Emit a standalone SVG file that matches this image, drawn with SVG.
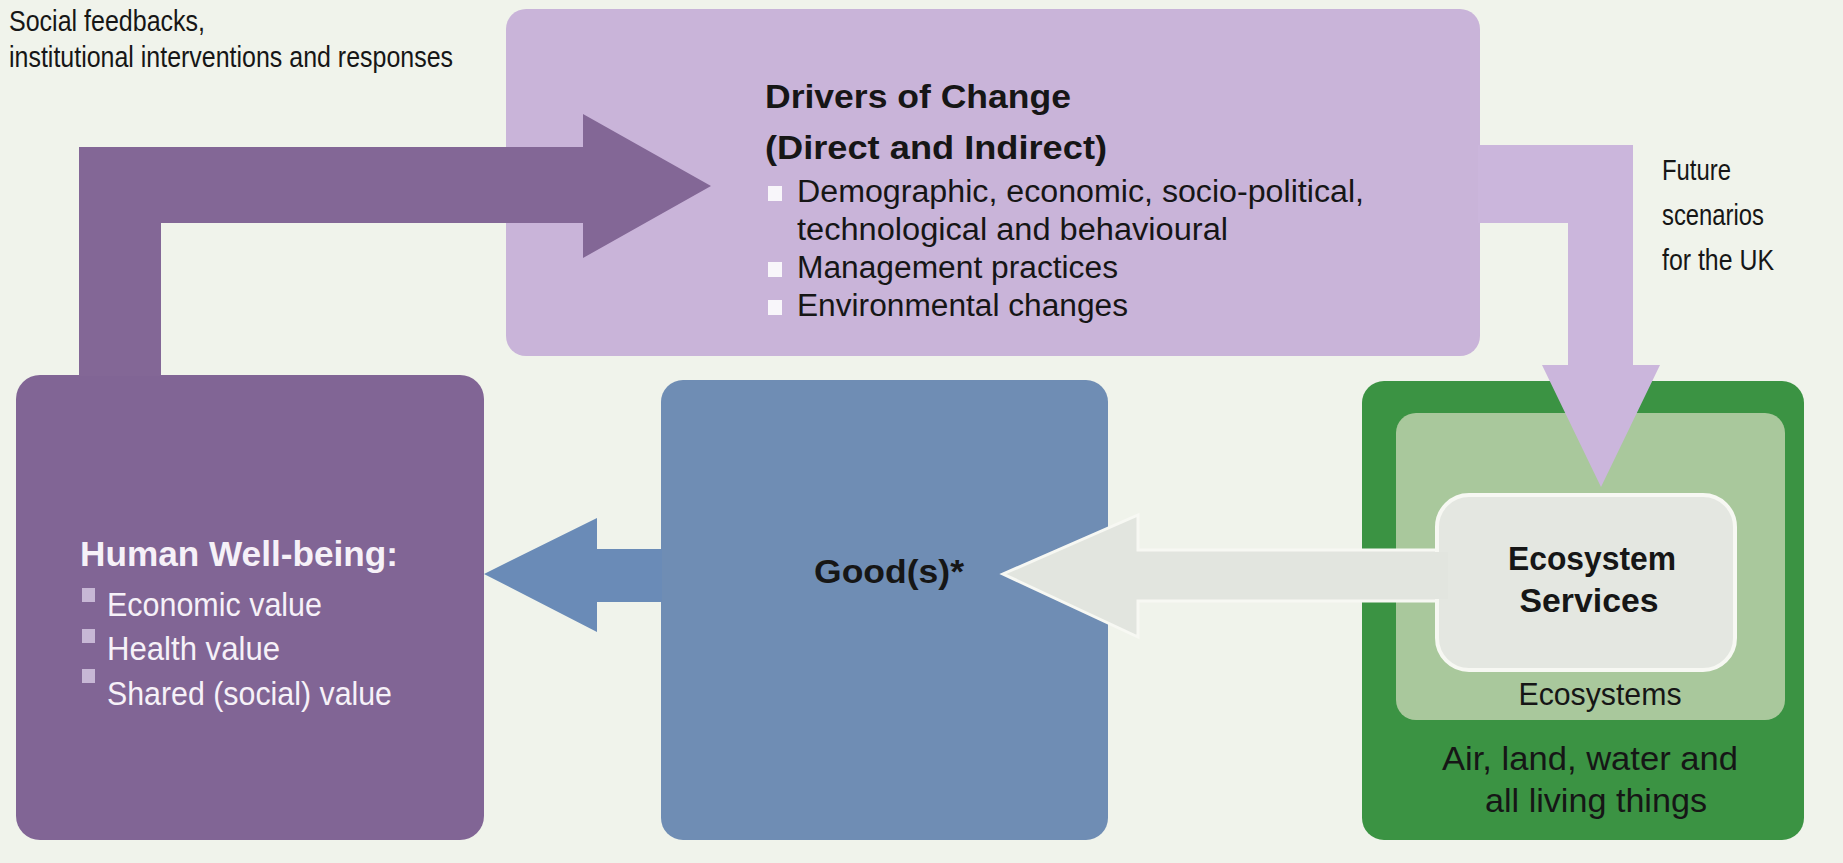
<svg xmlns="http://www.w3.org/2000/svg" width="1843" height="863" viewBox="0 0 1843 863">
  <style>
    .txt { font-family: "Liberation Sans", Arial, sans-serif; fill: #161616; }
    .bold { font-weight: bold; }
    .light { fill: #f6f1f8; }
    .mid { text-anchor: middle; }
  </style>

  <!-- page background -->
  <rect x="0" y="0" width="1843" height="863" fill="#f0f3eb"/>

  <!-- Drivers of Change -->
  <g id="drivers">
    <rect x="506" y="9" width="974" height="347" rx="20" fill="#c9b4d9"/>
  </g>

  <!-- Ecosystems (outer / inner) -->
  <g id="ecosystems">
    <rect x="1362" y="381" width="442" height="459" rx="22" fill="#3b9343"/>
    <rect x="1396" y="413" width="389" height="307" rx="20" fill="#a9c89c"/>
  </g>

  <!-- Human Well-being -->
  <g id="wellbeing">
    <rect x="16" y="375" width="468" height="465" rx="24" fill="#816595"/>
  </g>

  <!-- Goods -->
  <g id="goods">
    <rect x="661" y="380" width="447" height="460" rx="22" fill="#6f8db4"/>
  </g>

  <!-- Connectors -->
  <g id="connectors">
    <!-- feedback loop: well-being back to drivers -->
    <path d="M79,376 L79,147 L583,147 L583,114 L711,186 L583,258 L583,223 L161,223 L161,376 Z" fill="#836796"/>
    <!-- drivers down to ecosystems (future scenarios) -->
    <path d="M1478,145 L1633,145 L1633,365 L1660,365 L1601,487 L1542,365 L1568,365 L1568,223 L1478,223 Z" fill="#cbb6dc"/>
    <!-- goods to well-being -->
    <path d="M662,549 L597,549 L597,518 L484,574 L597,632 L597,602 L662,602 Z" fill="#6a8bb7"/>
    <!-- ecosystem services to goods -->
    <path d="M1445,550 L1138,550 L1138,515 L1003,574 L1138,637 L1138,601 L1445,601 Z" fill="#e2e5df" stroke="#f7f8f3" stroke-width="3" stroke-linejoin="miter"/>
  </g>

  <!-- Ecosystem Services -->
  <g id="ecosystem-services">
    <rect x="1437" y="495" width="298" height="175" rx="32" fill="#e4e7e1" stroke="#f7f8f3" stroke-width="4"/>
    <rect x="1432" y="552" width="16" height="47" fill="#e2e5df"/>
    <text class="txt bold mid" x="1592" y="570" font-size="34" textLength="168" lengthAdjust="spacingAndGlyphs">Ecosystem</text>
    <text class="txt bold mid" x="1589" y="612" font-size="34" textLength="139" lengthAdjust="spacingAndGlyphs">Services</text>
  </g>

  <!-- labels -->
  <g id="labels">
    <text class="txt" x="9" y="31" font-size="30" textLength="196" lengthAdjust="spacingAndGlyphs">Social feedbacks,</text>
    <text class="txt" x="9" y="67" font-size="30" textLength="444" lengthAdjust="spacingAndGlyphs">institutional interventions and responses</text>

    <text class="txt" x="1662" y="180" font-size="30" textLength="69" lengthAdjust="spacingAndGlyphs">Future</text>
    <text class="txt" x="1662" y="225" font-size="30" textLength="102" lengthAdjust="spacingAndGlyphs">scenarios</text>
    <text class="txt" x="1662" y="270" font-size="30" textLength="112" lengthAdjust="spacingAndGlyphs">for the UK</text>
  </g>

  <g id="drivers-text">
    <text class="txt bold" x="765" y="108" font-size="33" textLength="306" lengthAdjust="spacingAndGlyphs">Drivers of Change</text>
    <text class="txt bold" x="765" y="159" font-size="33" textLength="342" lengthAdjust="spacingAndGlyphs">(Direct and Indirect)</text>
    <rect x="768" y="186" width="14" height="15" fill="#f8f6fa"/>
    <text class="txt" x="797" y="202" font-size="31" textLength="567" lengthAdjust="spacingAndGlyphs">Demographic, economic, socio-political,</text>
    <text class="txt" x="797" y="240" font-size="31" textLength="431" lengthAdjust="spacingAndGlyphs">technological and behavioural</text>
    <rect x="768" y="262" width="14" height="15" fill="#f8f6fa"/>
    <text class="txt" x="797" y="278" font-size="31" textLength="321" lengthAdjust="spacingAndGlyphs">Management practices</text>
    <rect x="768" y="300" width="14" height="15" fill="#f8f6fa"/>
    <text class="txt" x="797" y="316" font-size="31" textLength="331" lengthAdjust="spacingAndGlyphs">Environmental changes</text>
  </g>

  <g id="wellbeing-text">
    <text class="txt bold light" x="80" y="566" font-size="35" textLength="318" lengthAdjust="spacingAndGlyphs">Human Well-being:</text>
    <rect x="82" y="588" width="13" height="14" fill="#c7b7d5"/>
    <text class="txt light" x="107" y="616" font-size="33" textLength="215" lengthAdjust="spacingAndGlyphs">Economic value</text>
    <rect x="82" y="629" width="13" height="14" fill="#c7b7d5"/>
    <text class="txt light" x="107" y="660" font-size="33" textLength="173" lengthAdjust="spacingAndGlyphs">Health value</text>
    <rect x="82" y="669" width="13" height="14" fill="#c7b7d5"/>
    <text class="txt light" x="107" y="705" font-size="33" textLength="285" lengthAdjust="spacingAndGlyphs">Shared (social) value</text>
  </g>

  <g id="goods-text">
    <text class="txt bold mid" x="889" y="583" font-size="33" textLength="150" lengthAdjust="spacingAndGlyphs">Good(s)*</text>
  </g>

  <g id="ecosystems-text">
    <text class="txt mid" x="1600" y="705" font-size="32" textLength="163" lengthAdjust="spacingAndGlyphs">Ecosystems</text>
    <text class="txt mid" x="1590" y="770" font-size="34" textLength="296" lengthAdjust="spacingAndGlyphs">Air, land, water and</text>
    <text class="txt mid" x="1596" y="812" font-size="34" textLength="222" lengthAdjust="spacingAndGlyphs">all living things</text>
  </g>
</svg>
